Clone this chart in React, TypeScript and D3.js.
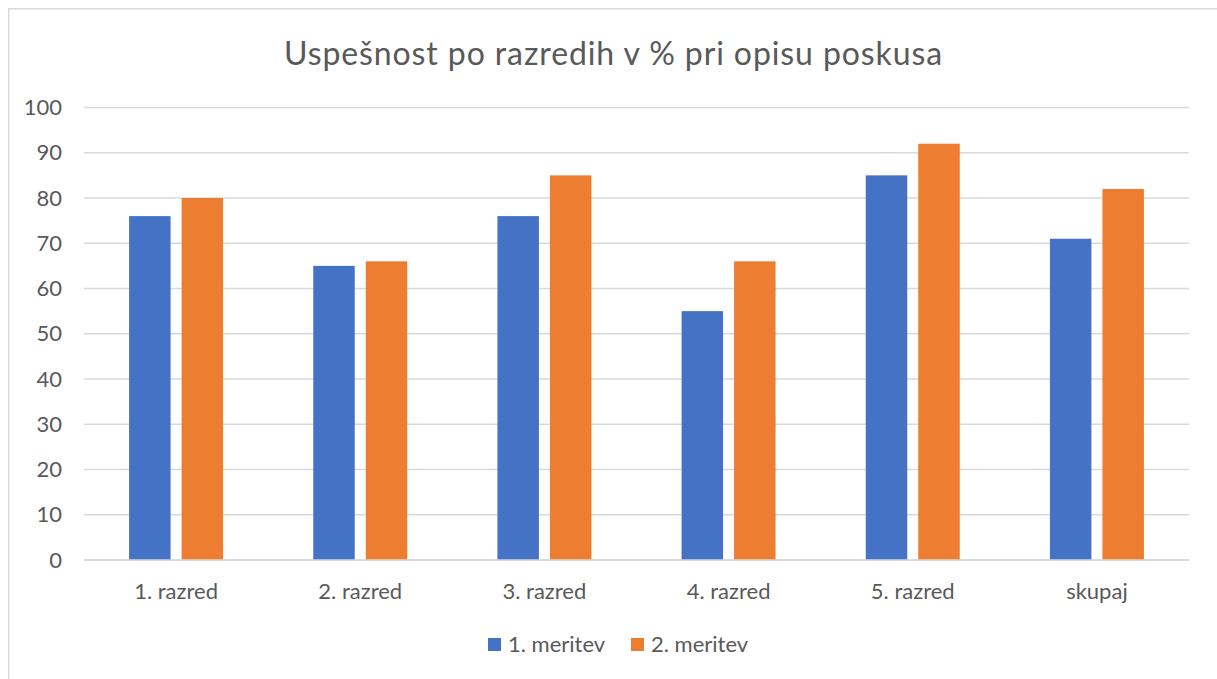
import React from "react";
import * as d3 from "d3";

const categories = ["1. razred", "2. razred", "3. razred", "4. razred", "5. razred", "skupaj"];
const seriesNames = ["1. meritev", "2. meritev"];
const meritev1 = [76, 65, 76, 55, 85, 71];
const meritev2 = [80, 66, 85, 66, 92, 82];
const yTicks = [0, 10, 20, 30, 40, 50, 60, 70, 80, 90, 100];
const colors = ["#4472C4", "#ED7D31"];
const title = "Uspešnost po razredih v % pri opisu poskusa";

const W = 1217;
const H = 679;
const FONT = "Lato, 'Open Sans', sans-serif";
const TXT = "#595959";

export default function App() {
  const left = 84;
  const right = 1189;
  const top = 107.5;
  const bottom = 560;

  const x = d3.scaleBand<string>().domain(categories).range([left, right]).paddingInner(0).paddingOuter(0);
  const xs = d3.scaleBand<string>().domain(seriesNames).range([0, x.bandwidth()]).paddingInner(0.21).paddingOuter(0.859);
  const y = d3.scaleLinear().domain([0, 100]).range([bottom, top]);

  const series = [meritev1, meritev2];

  return (
    <svg width={W} height={H} style={{ position: "absolute", left: 0, top: 0, background: "#fff" }} fontFamily={FONT}>
      <rect x={0} y={0} width={W} height={H} fill="#fff" />
      <rect x={8.75} y={8.75} width={1240} height={720} fill="none" stroke="#d9d9d9" strokeWidth={1.5} />
      <text x={613.5} y={65} textAnchor="middle" fontSize={32} letterSpacing={0.9} fill={TXT}>{title}</text>
      {yTicks.map((t) => (
        <g key={t}>
          <line x1={left} x2={right} y1={y(t)} y2={y(t)} stroke="#d9d9d9" strokeWidth={1.6} />
          <text x={62} y={y(t)} dy="0.35em" textAnchor="end" fontSize={22} fill={TXT}>{t}</text>
        </g>
      ))}
      {series.map((vals, si) =>
        vals.map((v, ci) => (
          <rect
            key={`${si}-${ci}`}
            x={(x(categories[ci]) as number) + (xs(seriesNames[si]) as number)}
            y={y(v)}
            width={xs.bandwidth()}
            height={y(0) - y(v)}
            fill={colors[si]}
          />
        ))
      )}
      <line x1={left} x2={right} y1={y(0)} y2={y(0)} stroke="#d9d9d9" strokeWidth={1.6} />
      {categories.map((c) => (
        <text key={c} x={(x(c) as number) + x.bandwidth() / 2} y={599} textAnchor="middle" fontSize={22} fill={TXT}>{c}</text>
      ))}
      {seriesNames.map((s, i) => {
        const lx = [488, 631][i];
        return (
          <g key={s}>
            <rect x={lx} y={638} width={13} height={13} fill={colors[i]} />
            <text x={lx + 20} y={651.5} fontSize={22} fill={TXT}>{s}</text>
          </g>
        );
      })}
    </svg>
  );
}
